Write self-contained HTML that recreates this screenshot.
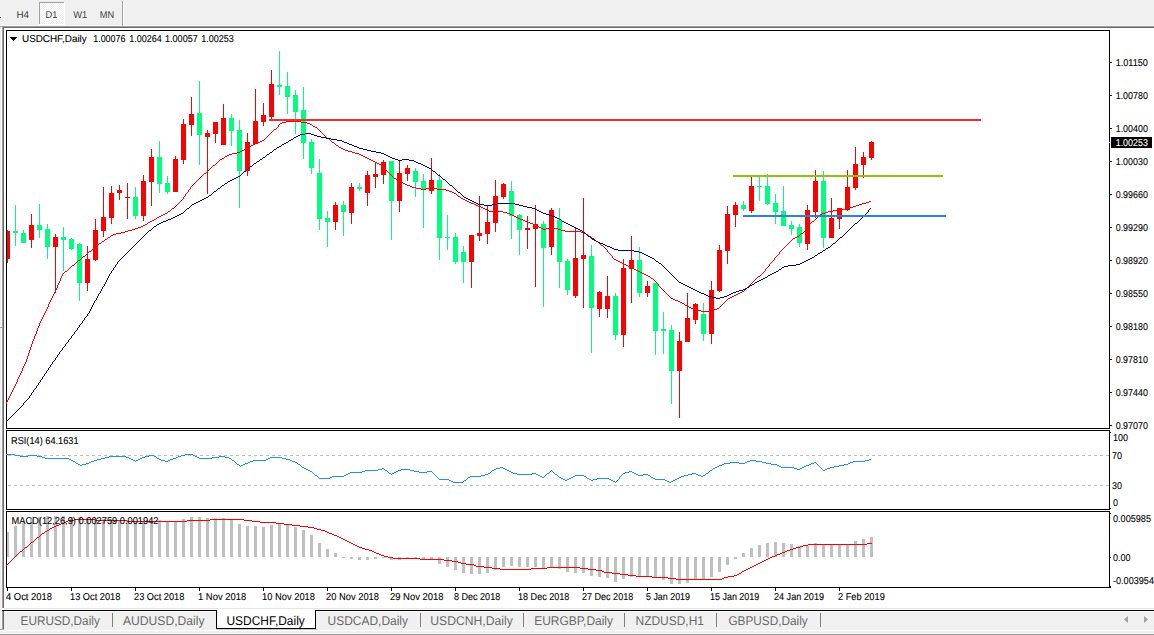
<!DOCTYPE html><html><head><meta charset="utf-8"><title>USDCHF Daily</title>
<style>html,body{margin:0;padding:0;background:#fff;overflow:hidden}svg{display:block}text{font-family:"Liberation Sans",sans-serif;text-rendering:geometricPrecision}</style></head><body>
<svg width="1154" height="635" viewBox="0 0 1154 635">
<rect width="1154" height="635" fill="#fff"/>
<g shape-rendering="crispEdges">
<rect x="0" y="0" width="1154" height="25" fill="#f0f0f0"/>
<rect x="0" y="25" width="1154" height="1" fill="#f8f8f8"/>
<rect x="0" y="26" width="1154" height="1" fill="#a0a0a0"/>
<rect x="3" y="27" width="1151" height="1" fill="#696969"/>
<defs><pattern id="dz" width="2" height="2" patternUnits="userSpaceOnUse"><rect width="2" height="2" fill="#f0f0f0"/><rect width="1" height="1" fill="#fff"/><rect x="1" y="1" width="1" height="1" fill="#fff"/></pattern></defs>
<rect x="40" y="3" width="24" height="21" fill="url(#dz)"/>
<rect x="39" y="2" width="25" height="1" fill="#a0a0a0"/><rect x="39" y="2" width="1" height="22" fill="#a0a0a0"/>
<rect x="64" y="2" width="1" height="23" fill="#fff"/><rect x="39" y="24" width="26" height="1" fill="#fff"/>
<rect x="122" y="1" width="1" height="25" fill="#a0a0a0"/><rect x="123" y="1" width="1" height="25" fill="#fff"/>
<rect x="0" y="17" width="1" height="1" fill="#444"/>
<rect x="0" y="27" width="1" height="603" fill="#f0f0f0"/>
<rect x="1" y="27" width="1" height="603" fill="#fafafa"/>
<rect x="2" y="27" width="1" height="581" fill="#a0a0a0"/>
<rect x="3" y="28" width="1" height="580" fill="#696969"/>
<rect x="2" y="611" width="1" height="19" fill="#a0a0a0"/>
<rect x="3" y="611" width="1" height="19" fill="#696969"/>
<rect x="0" y="327" width="3" height="1" fill="#a0a0a0"/>
<rect x="4" y="608" width="1150" height="1" fill="#e6e6e6"/>
<rect x="4" y="611" width="1150" height="19" fill="#f0f0f0"/>
<rect x="2" y="610" width="1152" height="1" fill="#000"/>
<rect x="4" y="611" width="1150" height="1" fill="#fafafa"/>
<rect x="0" y="629" width="4" height="1" fill="#a0a0a0"/>
<rect x="0" y="630" width="1154" height="1" fill="#fff"/>
<rect x="0" y="631" width="1154" height="2" fill="#f0f0f0"/>
<rect x="0" y="633" width="1154" height="1" fill="#f4f4f4"/>
<rect x="0" y="634" width="1154" height="1" fill="#a0a0a0"/>
<rect x="216" y="609" width="100" height="20" fill="#fff"/>
<rect x="216" y="610" width="1" height="19" fill="#000"/><rect x="315" y="610" width="1" height="19" fill="#000"/><rect x="216" y="628" width="100" height="1" fill="#000"/>
<rect x="217" y="629" width="100" height="1" fill="#c8c8c8"/>
<rect x="112" y="613" width="1" height="14" fill="#808080"/>
<rect x="420" y="613" width="1" height="14" fill="#808080"/>
<rect x="523" y="613" width="1" height="14" fill="#808080"/>
<rect x="624" y="613" width="1" height="14" fill="#808080"/>
<rect x="716" y="613" width="1" height="14" fill="#808080"/>
<rect x="820" y="613" width="1" height="14" fill="#808080"/>
<rect x="6" y="30" width="1104" height="1" fill="#000"/>
<rect x="6" y="30" width="1" height="558" fill="#000"/>
<rect x="1109" y="30" width="1" height="558" fill="#000"/>
<rect x="6" y="428" width="1104" height="1" fill="#000"/>
<rect x="6" y="430" width="1104" height="1" fill="#000"/>
<rect x="6" y="509" width="1104" height="1" fill="#000"/>
<rect x="6" y="511" width="1104" height="1" fill="#000"/>
<rect x="6" y="587" width="1105" height="1" fill="#000"/>
<rect x="6" y="429" width="1104" height="1" fill="#fff"/><rect x="6" y="510" width="1104" height="1" fill="#fff"/>
<rect x="1110" y="62" width="2" height="1" fill="#000"/>
<rect x="1110" y="95" width="2" height="1" fill="#000"/>
<rect x="1110" y="128" width="2" height="1" fill="#000"/>
<rect x="1110" y="161" width="2" height="1" fill="#000"/>
<rect x="1110" y="194" width="2" height="1" fill="#000"/>
<rect x="1110" y="227" width="2" height="1" fill="#000"/>
<rect x="1110" y="260" width="2" height="1" fill="#000"/>
<rect x="1110" y="293" width="2" height="1" fill="#000"/>
<rect x="1110" y="326" width="2" height="1" fill="#000"/>
<rect x="1110" y="359" width="2" height="1" fill="#000"/>
<rect x="1110" y="392" width="2" height="1" fill="#000"/>
<rect x="1110" y="425" width="2" height="1" fill="#000"/>
<rect x="1110" y="432" width="1" height="1" fill="#000"/>
<rect x="1110" y="508" width="1" height="1" fill="#000"/>
<rect x="1110" y="513" width="1" height="1" fill="#000"/>
<rect x="1110" y="557" width="1" height="1" fill="#000"/>
<rect x="1110" y="586" width="1" height="1" fill="#000"/>
<rect x="7" y="588" width="1" height="3" fill="#000"/>
<rect x="71" y="588" width="1" height="3" fill="#000"/>
<rect x="135" y="588" width="1" height="3" fill="#000"/>
<rect x="199" y="588" width="1" height="3" fill="#000"/>
<rect x="263" y="588" width="1" height="3" fill="#000"/>
<rect x="327" y="588" width="1" height="3" fill="#000"/>
<rect x="391" y="588" width="1" height="3" fill="#000"/>
<rect x="455" y="588" width="1" height="3" fill="#000"/>
<rect x="519" y="588" width="1" height="3" fill="#000"/>
<rect x="583" y="588" width="1" height="3" fill="#000"/>
<rect x="647" y="588" width="1" height="3" fill="#000"/>
<rect x="711" y="588" width="1" height="3" fill="#000"/>
<rect x="775" y="588" width="1" height="3" fill="#000"/>
<rect x="839" y="588" width="1" height="3" fill="#000"/>
<path d="M8 455.5H1109M8 485.5H1109" stroke="#c0c0c0" stroke-width="1" stroke-dasharray="3 3" fill="none"/>
<rect x="7" y="532.0" width="2" height="25.0" fill="#c0c0c0"/>
<rect x="14" y="526.0" width="3" height="31.0" fill="#c0c0c0"/>
<rect x="22" y="521.5" width="3" height="35.5" fill="#c0c0c0"/>
<rect x="30" y="519.0" width="3" height="38.0" fill="#c0c0c0"/>
<rect x="38" y="516.5" width="3" height="40.5" fill="#c0c0c0"/>
<rect x="46" y="516.0" width="3" height="41.0" fill="#c0c0c0"/>
<rect x="54" y="516.0" width="3" height="41.0" fill="#c0c0c0"/>
<rect x="62" y="516.0" width="3" height="41.0" fill="#c0c0c0"/>
<rect x="70" y="516.5" width="3" height="40.5" fill="#c0c0c0"/>
<rect x="78" y="517.0" width="3" height="40.0" fill="#c0c0c0"/>
<rect x="86" y="517.5" width="3" height="39.5" fill="#c0c0c0"/>
<rect x="94" y="518.0" width="3" height="39.0" fill="#c0c0c0"/>
<rect x="102" y="518.5" width="3" height="38.5" fill="#c0c0c0"/>
<rect x="110" y="519.0" width="3" height="38.0" fill="#c0c0c0"/>
<rect x="118" y="519.5" width="3" height="37.5" fill="#c0c0c0"/>
<rect x="126" y="520.0" width="3" height="37.0" fill="#c0c0c0"/>
<rect x="134" y="520.5" width="3" height="36.5" fill="#c0c0c0"/>
<rect x="142" y="521.0" width="3" height="36.0" fill="#c0c0c0"/>
<rect x="150" y="521.0" width="3" height="36.0" fill="#c0c0c0"/>
<rect x="158" y="520.0" width="3" height="37.0" fill="#c0c0c0"/>
<rect x="166" y="521.5" width="3" height="35.5" fill="#c0c0c0"/>
<rect x="174" y="521.5" width="3" height="35.5" fill="#c0c0c0"/>
<rect x="182" y="519.0" width="3" height="38.0" fill="#c0c0c0"/>
<rect x="190" y="517.0" width="3" height="40.0" fill="#c0c0c0"/>
<rect x="198" y="517.0" width="3" height="40.0" fill="#c0c0c0"/>
<rect x="206" y="518.0" width="3" height="39.0" fill="#c0c0c0"/>
<rect x="214" y="518.0" width="3" height="39.0" fill="#c0c0c0"/>
<rect x="222" y="518.0" width="3" height="39.0" fill="#c0c0c0"/>
<rect x="230" y="520.0" width="3" height="37.0" fill="#c0c0c0"/>
<rect x="238" y="524.0" width="3" height="33.0" fill="#c0c0c0"/>
<rect x="246" y="526.0" width="3" height="31.0" fill="#c0c0c0"/>
<rect x="254" y="526.0" width="3" height="31.0" fill="#c0c0c0"/>
<rect x="262" y="527.0" width="3" height="30.0" fill="#c0c0c0"/>
<rect x="270" y="525.0" width="3" height="32.0" fill="#c0c0c0"/>
<rect x="278" y="524.0" width="3" height="33.0" fill="#c0c0c0"/>
<rect x="286" y="525.0" width="3" height="32.0" fill="#c0c0c0"/>
<rect x="294" y="527.0" width="3" height="30.0" fill="#c0c0c0"/>
<rect x="302" y="530.0" width="3" height="27.0" fill="#c0c0c0"/>
<rect x="310" y="535.0" width="3" height="22.0" fill="#c0c0c0"/>
<rect x="318" y="543.0" width="3" height="14.0" fill="#c0c0c0"/>
<rect x="326" y="549.0" width="3" height="8.0" fill="#c0c0c0"/>
<rect x="334" y="553.0" width="3" height="4.0" fill="#c0c0c0"/>
<rect x="342" y="557" width="3" height="1.0" fill="#c0c0c0"/>
<rect x="350" y="557" width="3" height="2.0" fill="#c0c0c0"/>
<rect x="358" y="557" width="3" height="3.0" fill="#c0c0c0"/>
<rect x="366" y="557" width="3" height="3.0" fill="#c0c0c0"/>
<rect x="374" y="557" width="3" height="2.0" fill="#c0c0c0"/>
<rect x="382" y="557" width="3" height="1.0" fill="#c0c0c0"/>
<rect x="390" y="557" width="3" height="3.0" fill="#c0c0c0"/>
<rect x="398" y="557" width="3" height="3.0" fill="#c0c0c0"/>
<rect x="406" y="557" width="3" height="2.0" fill="#c0c0c0"/>
<rect x="414" y="557" width="3" height="2.0" fill="#c0c0c0"/>
<rect x="422" y="557" width="3" height="2.0" fill="#c0c0c0"/>
<rect x="430" y="557" width="3" height="2.0" fill="#c0c0c0"/>
<rect x="438" y="557" width="3" height="7.0" fill="#c0c0c0"/>
<rect x="446" y="557" width="3" height="10.0" fill="#c0c0c0"/>
<rect x="454" y="557" width="3" height="13.0" fill="#c0c0c0"/>
<rect x="462" y="557" width="3" height="16.0" fill="#c0c0c0"/>
<rect x="470" y="557" width="3" height="17.0" fill="#c0c0c0"/>
<rect x="478" y="557" width="3" height="17.0" fill="#c0c0c0"/>
<rect x="486" y="557" width="3" height="16.0" fill="#c0c0c0"/>
<rect x="494" y="557" width="3" height="13.0" fill="#c0c0c0"/>
<rect x="502" y="557" width="3" height="10.0" fill="#c0c0c0"/>
<rect x="510" y="557" width="3" height="9.0" fill="#c0c0c0"/>
<rect x="518" y="557" width="3" height="10.0" fill="#c0c0c0"/>
<rect x="526" y="557" width="3" height="10.0" fill="#c0c0c0"/>
<rect x="534" y="557" width="3" height="10.0" fill="#c0c0c0"/>
<rect x="542" y="557" width="3" height="11.0" fill="#c0c0c0"/>
<rect x="550" y="557" width="3" height="10.0" fill="#c0c0c0"/>
<rect x="558" y="557" width="3" height="12.0" fill="#c0c0c0"/>
<rect x="566" y="557" width="3" height="15.0" fill="#c0c0c0"/>
<rect x="574" y="557" width="3" height="16.0" fill="#c0c0c0"/>
<rect x="582" y="557" width="3" height="16.0" fill="#c0c0c0"/>
<rect x="590" y="557" width="3" height="19.0" fill="#c0c0c0"/>
<rect x="598" y="557" width="3" height="20.0" fill="#c0c0c0"/>
<rect x="606" y="557" width="3" height="21.0" fill="#c0c0c0"/>
<rect x="614" y="557" width="3" height="25.0" fill="#c0c0c0"/>
<rect x="622" y="557" width="3" height="22.0" fill="#c0c0c0"/>
<rect x="630" y="557" width="3" height="20.0" fill="#c0c0c0"/>
<rect x="638" y="557" width="3" height="20.0" fill="#c0c0c0"/>
<rect x="646" y="557" width="3" height="20.0" fill="#c0c0c0"/>
<rect x="654" y="557" width="3" height="21.0" fill="#c0c0c0"/>
<rect x="662" y="557" width="3" height="23.0" fill="#c0c0c0"/>
<rect x="670" y="557" width="3" height="27.0" fill="#c0c0c0"/>
<rect x="678" y="557" width="3" height="27.0" fill="#c0c0c0"/>
<rect x="686" y="557" width="3" height="26.0" fill="#c0c0c0"/>
<rect x="694" y="557" width="3" height="22.0" fill="#c0c0c0"/>
<rect x="702" y="557" width="3" height="22.0" fill="#c0c0c0"/>
<rect x="710" y="557" width="3" height="20.0" fill="#c0c0c0"/>
<rect x="718" y="557" width="3" height="15.0" fill="#c0c0c0"/>
<rect x="726" y="557" width="3" height="8.0" fill="#c0c0c0"/>
<rect x="734" y="557" width="3" height="2.0" fill="#c0c0c0"/>
<rect x="742" y="553.0" width="3" height="4.0" fill="#c0c0c0"/>
<rect x="750" y="548.0" width="3" height="9.0" fill="#c0c0c0"/>
<rect x="758" y="545.0" width="3" height="12.0" fill="#c0c0c0"/>
<rect x="766" y="543.0" width="3" height="14.0" fill="#c0c0c0"/>
<rect x="774" y="542.0" width="3" height="15.0" fill="#c0c0c0"/>
<rect x="782" y="543.0" width="3" height="14.0" fill="#c0c0c0"/>
<rect x="790" y="544.0" width="3" height="13.0" fill="#c0c0c0"/>
<rect x="798" y="546.0" width="3" height="11.0" fill="#c0c0c0"/>
<rect x="806" y="546.0" width="3" height="11.0" fill="#c0c0c0"/>
<rect x="814" y="543.0" width="3" height="14.0" fill="#c0c0c0"/>
<rect x="822" y="545.0" width="3" height="12.0" fill="#c0c0c0"/>
<rect x="830" y="545.0" width="3" height="12.0" fill="#c0c0c0"/>
<rect x="838" y="545.0" width="3" height="12.0" fill="#c0c0c0"/>
<rect x="846" y="545.0" width="3" height="12.0" fill="#c0c0c0"/>
<rect x="854" y="541.0" width="3" height="16.0" fill="#c0c0c0"/>
<rect x="862" y="539.0" width="3" height="18.0" fill="#c0c0c0"/>
<rect x="870" y="537.0" width="3" height="20.0" fill="#c0c0c0"/>
<rect x="7" y="230" width="1" height="33" fill="#ff0000"/>
<rect x="7" y="231" width="3" height="28" fill="#ff0000"/>
<rect x="15" y="205" width="1" height="41" fill="#00ff7f"/>
<rect x="13" y="231" width="5" height="2" fill="#00ff7f"/>
<rect x="23" y="230" width="1" height="13" fill="#00ff7f"/>
<rect x="21" y="233" width="5" height="10" fill="#00ff7f"/>
<rect x="31" y="214" width="1" height="34" fill="#ff0000"/>
<rect x="29" y="225" width="5" height="15" fill="#ff0000"/>
<rect x="39" y="204" width="1" height="34" fill="#00ff7f"/>
<rect x="37" y="225" width="5" height="5" fill="#00ff7f"/>
<rect x="47" y="224" width="1" height="35" fill="#00ff7f"/>
<rect x="45" y="229" width="5" height="18" fill="#00ff7f"/>
<rect x="55" y="234" width="1" height="59" fill="#ff0000"/>
<rect x="53" y="237" width="5" height="10" fill="#ff0000"/>
<rect x="63" y="227" width="1" height="44" fill="#00ff7f"/>
<rect x="61" y="237" width="5" height="3" fill="#00ff7f"/>
<rect x="71" y="238" width="1" height="12" fill="#00ff7f"/>
<rect x="69" y="239" width="5" height="10" fill="#00ff7f"/>
<rect x="79" y="243" width="1" height="58" fill="#00ff7f"/>
<rect x="77" y="244" width="5" height="39" fill="#00ff7f"/>
<rect x="87" y="246" width="1" height="45" fill="#ff0000"/>
<rect x="85" y="259" width="5" height="24" fill="#ff0000"/>
<rect x="95" y="219" width="1" height="42" fill="#ff0000"/>
<rect x="93" y="230" width="5" height="30" fill="#ff0000"/>
<rect x="103" y="187" width="1" height="50" fill="#ff0000"/>
<rect x="101" y="217" width="5" height="14" fill="#ff0000"/>
<rect x="111" y="186" width="1" height="38" fill="#ff0000"/>
<rect x="109" y="193" width="5" height="25" fill="#ff0000"/>
<rect x="119" y="185" width="1" height="15" fill="#ff0000"/>
<rect x="117" y="190" width="5" height="3" fill="#ff0000"/>
<rect x="127" y="183" width="1" height="36" fill="#ff0000"/>
<rect x="125" y="197" width="5" height="1" fill="#ff0000"/>
<rect x="135" y="187" width="1" height="32" fill="#00ff7f"/>
<rect x="133" y="197" width="5" height="19" fill="#00ff7f"/>
<rect x="143" y="175" width="1" height="46" fill="#ff0000"/>
<rect x="141" y="181" width="5" height="35" fill="#ff0000"/>
<rect x="151" y="149" width="1" height="57" fill="#ff0000"/>
<rect x="149" y="157" width="5" height="25" fill="#ff0000"/>
<rect x="159" y="141" width="1" height="52" fill="#00ff7f"/>
<rect x="157" y="157" width="5" height="27" fill="#00ff7f"/>
<rect x="167" y="176" width="1" height="18" fill="#00ff7f"/>
<rect x="165" y="183" width="5" height="9" fill="#00ff7f"/>
<rect x="175" y="156" width="1" height="36" fill="#ff0000"/>
<rect x="173" y="159" width="5" height="33" fill="#ff0000"/>
<rect x="183" y="119" width="1" height="45" fill="#ff0000"/>
<rect x="181" y="124" width="5" height="36" fill="#ff0000"/>
<rect x="191" y="97" width="1" height="39" fill="#ff0000"/>
<rect x="189" y="114" width="5" height="11" fill="#ff0000"/>
<rect x="199" y="81" width="1" height="84" fill="#00ff7f"/>
<rect x="197" y="113" width="5" height="22" fill="#00ff7f"/>
<rect x="207" y="130" width="1" height="64" fill="#ff0000"/>
<rect x="205" y="133" width="5" height="4" fill="#ff0000"/>
<rect x="215" y="122" width="1" height="21" fill="#ff0000"/>
<rect x="213" y="122" width="5" height="12" fill="#ff0000"/>
<rect x="223" y="104" width="1" height="41" fill="#ff0000"/>
<rect x="221" y="118" width="5" height="27" fill="#ff0000"/>
<rect x="231" y="114" width="1" height="32" fill="#00ff7f"/>
<rect x="229" y="118" width="5" height="13" fill="#00ff7f"/>
<rect x="239" y="120" width="1" height="88" fill="#00ff7f"/>
<rect x="237" y="130" width="5" height="41" fill="#00ff7f"/>
<rect x="247" y="133" width="1" height="43" fill="#ff0000"/>
<rect x="245" y="142" width="5" height="29" fill="#ff0000"/>
<rect x="255" y="89" width="1" height="55" fill="#ff0000"/>
<rect x="253" y="121" width="5" height="23" fill="#ff0000"/>
<rect x="263" y="103" width="1" height="23" fill="#ff0000"/>
<rect x="261" y="115" width="5" height="7" fill="#ff0000"/>
<rect x="271" y="70" width="1" height="49" fill="#ff0000"/>
<rect x="269" y="84" width="5" height="33" fill="#ff0000"/>
<rect x="279" y="51" width="1" height="44" fill="#00ff7f"/>
<rect x="277" y="85" width="5" height="2" fill="#00ff7f"/>
<rect x="287" y="72" width="1" height="42" fill="#00ff7f"/>
<rect x="285" y="86" width="5" height="11" fill="#00ff7f"/>
<rect x="295" y="90" width="1" height="44" fill="#00ff7f"/>
<rect x="293" y="95" width="5" height="17" fill="#00ff7f"/>
<rect x="303" y="87" width="1" height="72" fill="#00ff7f"/>
<rect x="301" y="110" width="5" height="33" fill="#00ff7f"/>
<rect x="311" y="139" width="1" height="35" fill="#00ff7f"/>
<rect x="309" y="142" width="5" height="26" fill="#00ff7f"/>
<rect x="319" y="159" width="1" height="71" fill="#00ff7f"/>
<rect x="317" y="173" width="5" height="46" fill="#00ff7f"/>
<rect x="327" y="211" width="1" height="36" fill="#00ff7f"/>
<rect x="325" y="218" width="5" height="4" fill="#00ff7f"/>
<rect x="335" y="202" width="1" height="28" fill="#ff0000"/>
<rect x="333" y="205" width="5" height="17" fill="#ff0000"/>
<rect x="343" y="201" width="1" height="35" fill="#00ff7f"/>
<rect x="341" y="205" width="5" height="7" fill="#00ff7f"/>
<rect x="351" y="183" width="1" height="41" fill="#ff0000"/>
<rect x="349" y="187" width="5" height="26" fill="#ff0000"/>
<rect x="359" y="183" width="1" height="8" fill="#00ff7f"/>
<rect x="357" y="187" width="5" height="2" fill="#00ff7f"/>
<rect x="367" y="171" width="1" height="35" fill="#ff0000"/>
<rect x="365" y="175" width="5" height="18" fill="#ff0000"/>
<rect x="375" y="162" width="1" height="26" fill="#ff0000"/>
<rect x="373" y="174" width="5" height="3" fill="#ff0000"/>
<rect x="383" y="160" width="1" height="24" fill="#ff0000"/>
<rect x="381" y="162" width="5" height="13" fill="#ff0000"/>
<rect x="391" y="161" width="1" height="79" fill="#00ff7f"/>
<rect x="389" y="161" width="5" height="40" fill="#00ff7f"/>
<rect x="399" y="160" width="1" height="52" fill="#ff0000"/>
<rect x="397" y="173" width="5" height="28" fill="#ff0000"/>
<rect x="407" y="165" width="1" height="16" fill="#ff0000"/>
<rect x="405" y="168" width="5" height="6" fill="#ff0000"/>
<rect x="415" y="168" width="1" height="29" fill="#00ff7f"/>
<rect x="413" y="171" width="5" height="11" fill="#00ff7f"/>
<rect x="423" y="174" width="1" height="54" fill="#00ff7f"/>
<rect x="421" y="181" width="5" height="9" fill="#00ff7f"/>
<rect x="431" y="158" width="1" height="36" fill="#ff0000"/>
<rect x="429" y="180" width="5" height="11" fill="#ff0000"/>
<rect x="439" y="174" width="1" height="86" fill="#00ff7f"/>
<rect x="437" y="180" width="5" height="58" fill="#00ff7f"/>
<rect x="447" y="215" width="1" height="35" fill="#00ff7f"/>
<rect x="445" y="237" width="5" height="1" fill="#00ff7f"/>
<rect x="455" y="233" width="1" height="31" fill="#00ff7f"/>
<rect x="453" y="237" width="5" height="25" fill="#00ff7f"/>
<rect x="463" y="246" width="1" height="37" fill="#00ff7f"/>
<rect x="461" y="252" width="5" height="10" fill="#00ff7f"/>
<rect x="471" y="235" width="1" height="53" fill="#ff0000"/>
<rect x="469" y="235" width="5" height="27" fill="#ff0000"/>
<rect x="479" y="196" width="1" height="45" fill="#ff0000"/>
<rect x="477" y="233" width="5" height="3" fill="#ff0000"/>
<rect x="487" y="206" width="1" height="38" fill="#ff0000"/>
<rect x="485" y="222" width="5" height="12" fill="#ff0000"/>
<rect x="495" y="180" width="1" height="52" fill="#ff0000"/>
<rect x="493" y="196" width="5" height="27" fill="#ff0000"/>
<rect x="503" y="183" width="1" height="16" fill="#ff0000"/>
<rect x="501" y="184" width="5" height="13" fill="#ff0000"/>
<rect x="511" y="181" width="1" height="58" fill="#00ff7f"/>
<rect x="509" y="191" width="5" height="25" fill="#00ff7f"/>
<rect x="519" y="214" width="1" height="41" fill="#00ff7f"/>
<rect x="517" y="215" width="5" height="15" fill="#00ff7f"/>
<rect x="527" y="216" width="1" height="33" fill="#ff0000"/>
<rect x="525" y="228" width="5" height="2" fill="#ff0000"/>
<rect x="535" y="205" width="1" height="82" fill="#ff0000"/>
<rect x="533" y="224" width="5" height="5" fill="#ff0000"/>
<rect x="543" y="221" width="1" height="86" fill="#00ff7f"/>
<rect x="541" y="224" width="5" height="24" fill="#00ff7f"/>
<rect x="551" y="208" width="1" height="47" fill="#ff0000"/>
<rect x="549" y="210" width="5" height="37" fill="#ff0000"/>
<rect x="559" y="208" width="1" height="80" fill="#00ff7f"/>
<rect x="557" y="220" width="5" height="42" fill="#00ff7f"/>
<rect x="567" y="259" width="1" height="36" fill="#00ff7f"/>
<rect x="565" y="261" width="5" height="29" fill="#00ff7f"/>
<rect x="575" y="228" width="1" height="70" fill="#ff0000"/>
<rect x="573" y="258" width="5" height="38" fill="#ff0000"/>
<rect x="583" y="198" width="1" height="110" fill="#ff0000"/>
<rect x="581" y="255" width="5" height="4" fill="#ff0000"/>
<rect x="591" y="245" width="1" height="108" fill="#00ff7f"/>
<rect x="589" y="256" width="5" height="52" fill="#00ff7f"/>
<rect x="599" y="291" width="1" height="26" fill="#ff0000"/>
<rect x="597" y="292" width="5" height="17" fill="#ff0000"/>
<rect x="607" y="276" width="1" height="42" fill="#ff0000"/>
<rect x="605" y="296" width="5" height="13" fill="#ff0000"/>
<rect x="615" y="293" width="1" height="47" fill="#00ff7f"/>
<rect x="613" y="296" width="5" height="39" fill="#00ff7f"/>
<rect x="623" y="259" width="1" height="88" fill="#ff0000"/>
<rect x="621" y="268" width="5" height="67" fill="#ff0000"/>
<rect x="631" y="236" width="1" height="67" fill="#ff0000"/>
<rect x="629" y="260" width="5" height="9" fill="#ff0000"/>
<rect x="639" y="247" width="1" height="50" fill="#00ff7f"/>
<rect x="637" y="260" width="5" height="33" fill="#00ff7f"/>
<rect x="647" y="281" width="1" height="16" fill="#ff0000"/>
<rect x="645" y="286" width="5" height="7" fill="#ff0000"/>
<rect x="655" y="283" width="1" height="72" fill="#00ff7f"/>
<rect x="653" y="283" width="5" height="48" fill="#00ff7f"/>
<rect x="663" y="312" width="1" height="42" fill="#00ff7f"/>
<rect x="661" y="329" width="5" height="2" fill="#00ff7f"/>
<rect x="671" y="325" width="1" height="79" fill="#00ff7f"/>
<rect x="669" y="330" width="5" height="41" fill="#00ff7f"/>
<rect x="679" y="332" width="1" height="86" fill="#ff0000"/>
<rect x="677" y="341" width="5" height="30" fill="#ff0000"/>
<rect x="687" y="293" width="1" height="49" fill="#ff0000"/>
<rect x="685" y="318" width="5" height="24" fill="#ff0000"/>
<rect x="695" y="303" width="1" height="21" fill="#ff0000"/>
<rect x="693" y="304" width="5" height="16" fill="#ff0000"/>
<rect x="703" y="303" width="1" height="38" fill="#00ff7f"/>
<rect x="701" y="314" width="5" height="20" fill="#00ff7f"/>
<rect x="711" y="281" width="1" height="63" fill="#ff0000"/>
<rect x="709" y="290" width="5" height="44" fill="#ff0000"/>
<rect x="719" y="245" width="1" height="47" fill="#ff0000"/>
<rect x="717" y="250" width="5" height="41" fill="#ff0000"/>
<rect x="727" y="206" width="1" height="58" fill="#ff0000"/>
<rect x="725" y="214" width="5" height="37" fill="#ff0000"/>
<rect x="735" y="202" width="1" height="25" fill="#ff0000"/>
<rect x="733" y="205" width="5" height="10" fill="#ff0000"/>
<rect x="743" y="201" width="1" height="10" fill="#00ff7f"/>
<rect x="741" y="205" width="5" height="4" fill="#00ff7f"/>
<rect x="751" y="176" width="1" height="37" fill="#ff0000"/>
<rect x="749" y="186" width="5" height="25" fill="#ff0000"/>
<rect x="759" y="176" width="1" height="25" fill="#00ff7f"/>
<rect x="757" y="186" width="5" height="1" fill="#00ff7f"/>
<rect x="767" y="174" width="1" height="31" fill="#00ff7f"/>
<rect x="765" y="186" width="5" height="18" fill="#00ff7f"/>
<rect x="775" y="194" width="1" height="30" fill="#00ff7f"/>
<rect x="773" y="203" width="5" height="9" fill="#00ff7f"/>
<rect x="783" y="186" width="1" height="40" fill="#00ff7f"/>
<rect x="781" y="211" width="5" height="15" fill="#00ff7f"/>
<rect x="791" y="221" width="1" height="14" fill="#00ff7f"/>
<rect x="789" y="225" width="5" height="4" fill="#00ff7f"/>
<rect x="799" y="224" width="1" height="23" fill="#00ff7f"/>
<rect x="797" y="227" width="5" height="16" fill="#00ff7f"/>
<rect x="807" y="205" width="1" height="45" fill="#ff0000"/>
<rect x="805" y="210" width="5" height="34" fill="#ff0000"/>
<rect x="815" y="170" width="1" height="48" fill="#ff0000"/>
<rect x="813" y="181" width="5" height="31" fill="#ff0000"/>
<rect x="823" y="171" width="1" height="77" fill="#00ff7f"/>
<rect x="821" y="181" width="5" height="57" fill="#00ff7f"/>
<rect x="831" y="198" width="1" height="40" fill="#ff0000"/>
<rect x="829" y="218" width="5" height="20" fill="#ff0000"/>
<rect x="839" y="208" width="1" height="21" fill="#ff0000"/>
<rect x="837" y="208" width="5" height="11" fill="#ff0000"/>
<rect x="847" y="170" width="1" height="41" fill="#ff0000"/>
<rect x="845" y="187" width="5" height="23" fill="#ff0000"/>
<rect x="855" y="147" width="1" height="43" fill="#ff0000"/>
<rect x="853" y="164" width="5" height="24" fill="#ff0000"/>
<rect x="863" y="152" width="1" height="26" fill="#ff0000"/>
<rect x="861" y="157" width="5" height="8" fill="#ff0000"/>
<rect x="871" y="141" width="1" height="19" fill="#ff0000"/>
<rect x="869" y="142" width="5" height="16" fill="#ff0000"/>
<rect x="1111" y="137" width="41" height="11" fill="#000"/>
<rect x="1109" y="142" width="1" height="1" fill="#fff"/>
<path d="M10 37h7l-3.5 4z" fill="#000"/>
</g>
<g shape-rendering="crispEdges">
<path fill="#ff0000" d="M286 121h15v1h-15zM282 122h4v1h-4zM301 122h6v1h-6zM280 123h2v1h-2zM307 123h3v1h-3zM310 124h2v1h-2zM313 126h2v1h-2zM315 127h2v1h-2zM274 129h2v1h-2zM327 138h2v1h-2zM262 140h2v1h-2zM260 141h2v1h-2zM258 142h2v1h-2zM332 142h2v1h-2zM255 143h3v1h-3zM253 144h2v1h-2zM251 145h2v1h-2zM336 145h2v1h-2zM249 146h2v1h-2zM247 147h2v1h-2zM339 147h2v1h-2zM245 148h2v1h-2zM341 148h2v1h-2zM343 149h2v1h-2zM242 150h2v1h-2zM345 150h3v1h-3zM240 151h2v1h-2zM348 151h4v1h-4zM237 152h3v1h-3zM352 152h3v1h-3zM232 153h5v1h-5zM355 153h4v1h-4zM229 154h3v1h-3zM359 154h2v1h-2zM227 155h2v1h-2zM361 155h2v1h-2zM225 156h2v1h-2zM363 156h2v1h-2zM365 157h2v1h-2zM222 158h2v1h-2zM367 158h2v1h-2zM220 159h2v1h-2zM369 159h2v1h-2zM371 160h2v1h-2zM373 161h2v1h-2zM375 162h2v1h-2zM377 163h2v1h-2zM379 164h2v1h-2zM213 165h2v1h-2zM204 173h2v1h-2zM394 178h2v1h-2zM396 179h2v1h-2zM399 181h2v1h-2zM401 182h2v1h-2zM403 183h2v1h-2zM405 184h2v1h-2zM407 185h3v1h-3zM410 186h2v1h-2zM412 187h4v1h-4zM416 188h5v1h-5zM426 188h11v1h-11zM421 189h5v1h-5zM437 189h9v1h-9zM446 190h3v1h-3zM449 191h3v1h-3zM452 192h2v1h-2zM454 193h2v1h-2zM458 196h2v1h-2zM461 198h2v1h-2zM463 199h2v1h-2zM465 200h2v1h-2zM467 201h2v1h-2zM869 201h2v1h-2zM469 202h2v1h-2zM866 202h3v1h-3zM471 203h3v1h-3zM862 203h4v1h-4zM474 204h2v1h-2zM859 204h3v1h-3zM476 205h2v1h-2zM856 205h3v1h-3zM478 206h3v1h-3zM853 206h3v1h-3zM481 207h2v1h-2zM849 207h4v1h-4zM172 208h2v1h-2zM483 208h2v1h-2zM846 208h3v1h-3zM485 209h2v1h-2zM841 209h5v1h-5zM487 210h2v1h-2zM833 210h8v1h-8zM168 211h2v1h-2zM489 211h14v1h-14zM828 211h5v1h-5zM503 212h4v1h-4zM825 212h3v1h-3zM165 213h2v1h-2zM507 213h3v1h-3zM822 213h3v1h-3zM163 214h2v1h-2zM510 214h2v1h-2zM820 214h2v1h-2zM161 215h2v1h-2zM512 215h2v1h-2zM159 216h2v1h-2zM514 216h2v1h-2zM157 217h2v1h-2zM516 217h2v1h-2zM518 218h2v1h-2zM154 219h2v1h-2zM520 219h3v1h-3zM152 220h2v1h-2zM523 220h2v1h-2zM150 221h2v1h-2zM525 221h3v1h-3zM812 221h2v1h-2zM148 222h2v1h-2zM528 222h2v1h-2zM530 223h3v1h-3zM145 224h2v1h-2zM533 224h2v1h-2zM143 225h2v1h-2zM535 225h2v1h-2zM141 226h2v1h-2zM537 226h2v1h-2zM138 227h3v1h-3zM539 227h2v1h-2zM135 228h3v1h-3zM541 228h2v1h-2zM546 228h12v1h-12zM132 229h3v1h-3zM543 229h3v1h-3zM558 229h3v1h-3zM128 230h4v1h-4zM561 230h4v1h-4zM125 231h3v1h-3zM565 231h16v1h-16zM121 232h4v1h-4zM581 232h3v1h-3zM116 233h5v1h-5zM584 233h2v1h-2zM801 233h2v1h-2zM113 234h3v1h-3zM586 234h2v1h-2zM111 235h2v1h-2zM589 236h2v1h-2zM797 236h2v1h-2zM108 237h2v1h-2zM795 237h2v1h-2zM592 238h2v1h-2zM793 238h2v1h-2zM105 239h2v1h-2zM102 241h2v1h-2zM596 241h2v1h-2zM99 243h2v1h-2zM601 245h2v1h-2zM95 246h2v1h-2zM89 251h2v1h-2zM83 256h2v1h-2zM614 259h2v1h-2zM78 260h2v1h-2zM616 260h2v1h-2zM618 261h2v1h-2zM620 262h2v1h-2zM622 263h2v1h-2zM624 264h2v1h-2zM72 265h2v1h-2zM626 265h2v1h-2zM628 266h2v1h-2zM630 267h2v1h-2zM632 268h2v1h-2zM634 269h2v1h-2zM636 270h2v1h-2zM65 271h2v1h-2zM638 271h2v1h-2zM640 272h2v1h-2zM642 273h2v1h-2zM644 274h2v1h-2zM646 275h2v1h-2zM648 276h2v1h-2zM758 276h2v1h-2zM651 278h2v1h-2zM742 291h2v1h-2zM740 292h2v1h-2zM738 293h2v1h-2zM736 294h2v1h-2zM734 295h2v1h-2zM732 296h2v1h-2zM730 297h2v1h-2zM671 298h2v1h-2zM728 298h2v1h-2zM673 299h2v1h-2zM675 300h3v1h-3zM678 301h2v1h-2zM680 302h2v1h-2zM682 303h2v1h-2zM685 305h2v1h-2zM687 306h2v1h-2zM689 307h2v1h-2zM691 308h3v1h-3zM717 308h2v1h-2zM694 309h4v1h-4zM714 309h3v1h-3zM698 310h3v1h-3zM711 310h3v1h-3zM701 311h10v1h-10zM6 402h1v2h-1zM7 400h1v2h-1zM8 398h1v2h-1zM9 396h1v2h-1zM10 394h1v2h-1zM11 392h1v2h-1zM12 390h1v2h-1zM13 388h1v2h-1zM14 386h1v2h-1zM15 384h1v2h-1zM16 382h1v2h-1zM17 379h1v3h-1zM18 377h1v2h-1zM19 375h1v2h-1zM20 373h1v2h-1zM21 371h1v2h-1zM22 368h1v3h-1zM23 366h1v2h-1zM24 364h1v2h-1zM25 362h1v2h-1zM26 359h1v3h-1zM27 356h1v3h-1zM28 353h1v3h-1zM29 350h1v3h-1zM30 347h1v3h-1zM31 344h1v3h-1zM32 341h1v3h-1zM33 339h1v2h-1zM34 336h1v3h-1zM35 334h1v2h-1zM36 331h1v3h-1zM37 328h1v3h-1zM38 326h1v2h-1zM39 323h1v3h-1zM40 321h1v2h-1zM41 319h1v2h-1zM42 317h1v2h-1zM43 315h1v2h-1zM44 313h1v2h-1zM45 311h1v2h-1zM46 309h1v2h-1zM47 307h1v2h-1zM48 304h1v3h-1zM49 302h1v2h-1zM50 300h1v2h-1zM51 298h1v2h-1zM52 296h1v2h-1zM53 294h1v2h-1zM54 292h1v2h-1zM55 290h1v2h-1zM56 288h1v2h-1zM57 285h1v3h-1zM58 283h1v2h-1zM59 281h1v2h-1zM60 278h1v3h-1zM61 276h1v2h-1zM62 274h1v2h-1zM63 273h1v1h-1zM64 272h1v1h-1zM67 270h1v1h-1zM68 269h1v1h-1zM69 268h1v1h-1zM70 267h1v1h-1zM71 266h1v1h-1zM74 264h1v1h-1zM75 263h1v1h-1zM76 262h1v1h-1zM77 261h1v1h-1zM80 259h1v1h-1zM81 258h1v1h-1zM82 257h1v1h-1zM85 255h1v1h-1zM86 254h1v1h-1zM87 253h1v1h-1zM88 252h1v1h-1zM91 250h1v1h-1zM92 249h1v1h-1zM93 248h1v1h-1zM94 247h1v1h-1zM97 245h1v1h-1zM98 244h1v1h-1zM101 242h1v1h-1zM104 240h1v1h-1zM107 238h1v1h-1zM110 236h1v1h-1zM147 223h1v1h-1zM156 218h1v1h-1zM167 212h1v1h-1zM170 210h1v1h-1zM171 209h1v1h-1zM174 207h1v1h-1zM175 206h1v1h-1zM176 205h1v1h-1zM177 204h1v1h-1zM178 203h1v1h-1zM179 202h1v1h-1zM180 201h1v1h-1zM181 200h1v1h-1zM182 199h1v1h-1zM183 197h1v2h-1zM184 196h1v1h-1zM185 194h1v2h-1zM186 193h1v1h-1zM187 192h1v1h-1zM188 190h1v2h-1zM189 189h1v1h-1zM190 187h1v2h-1zM191 186h1v1h-1zM192 185h1v1h-1zM193 184h1v1h-1zM194 183h1v1h-1zM195 182h1v1h-1zM196 181h1v1h-1zM197 180h1v1h-1zM198 179h1v1h-1zM199 178h1v1h-1zM200 177h1v1h-1zM201 176h1v1h-1zM202 175h1v1h-1zM203 174h1v1h-1zM206 172h1v1h-1zM207 171h1v1h-1zM208 170h1v1h-1zM209 169h1v1h-1zM210 168h1v1h-1zM211 167h1v1h-1zM212 166h1v1h-1zM215 164h1v1h-1zM216 163h1v1h-1zM217 162h1v1h-1zM218 161h1v1h-1zM219 160h1v1h-1zM224 157h1v1h-1zM244 149h1v1h-1zM264 139h1v1h-1zM265 138h1v1h-1zM266 137h1v1h-1zM267 136h1v1h-1zM268 135h1v1h-1zM269 134h1v1h-1zM270 133h1v1h-1zM271 132h1v1h-1zM272 131h1v1h-1zM273 130h1v1h-1zM276 128h1v1h-1zM277 127h1v1h-1zM278 125h1v2h-1zM279 124h1v1h-1zM312 125h1v1h-1zM317 128h1v1h-1zM318 129h1v1h-1zM319 130h1v1h-1zM320 131h1v1h-1zM321 132h1v1h-1zM322 133h1v1h-1zM323 134h1v1h-1zM324 135h1v1h-1zM325 136h1v1h-1zM326 137h1v1h-1zM329 139h1v1h-1zM330 140h1v1h-1zM331 141h1v1h-1zM334 143h1v1h-1zM335 144h1v1h-1zM338 146h1v1h-1zM381 165h1v1h-1zM382 166h1v1h-1zM383 167h1v1h-1zM384 168h1v1h-1zM385 169h1v1h-1zM386 170h1v1h-1zM387 171h1v1h-1zM388 172h1v1h-1zM389 173h1v1h-1zM390 174h1v1h-1zM391 175h1v1h-1zM392 176h1v1h-1zM393 177h1v1h-1zM398 180h1v1h-1zM456 194h1v1h-1zM457 195h1v1h-1zM460 197h1v1h-1zM588 235h1v1h-1zM591 237h1v1h-1zM594 239h1v1h-1zM595 240h1v1h-1zM598 242h1v1h-1zM599 243h1v1h-1zM600 244h1v1h-1zM603 246h1v1h-1zM604 247h1v1h-1zM605 248h1v1h-1zM606 249h1v1h-1zM607 250h1v2h-1zM608 252h1v1h-1zM609 253h1v1h-1zM610 254h1v1h-1zM611 255h1v1h-1zM612 256h1v2h-1zM613 258h1v1h-1zM650 277h1v1h-1zM653 279h1v1h-1zM654 280h1v1h-1zM655 281h1v1h-1zM656 282h1v1h-1zM657 283h1v1h-1zM658 284h1v2h-1zM659 286h1v1h-1zM660 287h1v1h-1zM661 288h1v1h-1zM662 289h1v1h-1zM663 290h1v1h-1zM664 291h1v1h-1zM665 292h1v1h-1zM666 293h1v1h-1zM667 294h1v1h-1zM668 295h1v1h-1zM669 296h1v1h-1zM670 297h1v1h-1zM684 304h1v1h-1zM719 307h1v1h-1zM720 306h1v1h-1zM721 305h1v1h-1zM722 304h1v1h-1zM723 303h1v1h-1zM724 302h1v1h-1zM725 301h1v1h-1zM726 300h1v1h-1zM727 299h1v1h-1zM744 290h1v1h-1zM745 289h1v1h-1zM746 288h1v1h-1zM747 287h1v1h-1zM748 286h1v1h-1zM749 285h1v1h-1zM750 284h1v1h-1zM751 283h1v1h-1zM752 282h1v1h-1zM753 281h1v1h-1zM754 280h1v1h-1zM755 279h1v1h-1zM756 278h1v1h-1zM757 277h1v1h-1zM760 275h1v1h-1zM761 274h1v1h-1zM762 273h1v1h-1zM763 272h1v1h-1zM764 271h1v1h-1zM765 269h1v2h-1zM766 268h1v1h-1zM767 267h1v1h-1zM768 266h1v1h-1zM769 264h1v2h-1zM770 263h1v1h-1zM771 262h1v1h-1zM772 261h1v1h-1zM773 260h1v1h-1zM774 258h1v2h-1zM775 257h1v1h-1zM776 256h1v1h-1zM777 255h1v1h-1zM778 254h1v1h-1zM779 252h1v2h-1zM780 251h1v1h-1zM781 250h1v1h-1zM782 249h1v1h-1zM783 248h1v1h-1zM784 247h1v1h-1zM785 246h1v1h-1zM786 245h1v1h-1zM787 244h1v1h-1zM788 243h1v1h-1zM789 242h1v1h-1zM790 241h1v1h-1zM791 240h1v1h-1zM792 239h1v1h-1zM799 235h1v1h-1zM800 234h1v1h-1zM803 232h1v1h-1zM804 231h1v1h-1zM805 229h1v2h-1zM806 228h1v1h-1zM807 227h1v1h-1zM808 225h1v2h-1zM809 224h1v1h-1zM810 223h1v1h-1zM811 222h1v1h-1zM814 220h1v1h-1zM815 219h1v1h-1zM816 218h1v1h-1zM817 217h1v1h-1zM818 216h1v1h-1zM819 215h1v1h-1z"/>
<path fill="#000088" d="M305 133h6v1h-6zM300 134h5v1h-5zM311 134h3v1h-3zM298 135h2v1h-2zM314 135h3v1h-3zM296 136h2v1h-2zM317 136h4v1h-4zM294 137h2v1h-2zM321 137h5v1h-5zM326 138h5v1h-5zM291 139h2v1h-2zM331 139h6v1h-6zM289 140h2v1h-2zM337 140h5v1h-5zM342 141h2v1h-2zM286 142h2v1h-2zM344 142h3v1h-3zM284 143h2v1h-2zM347 143h2v1h-2zM282 144h2v1h-2zM349 144h3v1h-3zM352 145h2v1h-2zM279 146h2v1h-2zM354 146h3v1h-3zM277 147h2v1h-2zM357 147h2v1h-2zM359 148h4v1h-4zM274 149h2v1h-2zM363 149h4v1h-4zM367 150h4v1h-4zM371 151h5v1h-5zM270 152h2v1h-2zM376 152h5v1h-5zM381 153h3v1h-3zM267 154h2v1h-2zM384 154h2v1h-2zM386 155h2v1h-2zM388 156h2v1h-2zM263 157h2v1h-2zM390 157h2v1h-2zM392 158h3v1h-3zM260 159h2v1h-2zM395 159h3v1h-3zM402 159h7v1h-7zM398 160h4v1h-4zM409 160h5v1h-5zM257 161h2v1h-2zM414 161h2v1h-2zM416 162h2v1h-2zM254 163h2v1h-2zM418 163h3v1h-3zM421 164h2v1h-2zM423 165h2v1h-2zM250 166h2v1h-2zM425 166h2v1h-2zM427 167h2v1h-2zM429 168h2v1h-2zM244 171h2v1h-2zM433 171h2v1h-2zM438 175h2v1h-2zM238 176h2v1h-2zM236 177h2v1h-2zM234 178h2v1h-2zM232 179h2v1h-2zM443 179h2v1h-2zM230 180h2v1h-2zM228 181h2v1h-2zM225 183h2v1h-2zM222 185h2v1h-2zM450 185h2v1h-2zM218 188h2v1h-2zM214 191h2v1h-2zM458 192h2v1h-2zM209 195h2v1h-2zM206 197h2v1h-2zM464 197h2v1h-2zM204 198h2v1h-2zM466 198h2v1h-2zM202 199h2v1h-2zM468 199h2v1h-2zM200 200h2v1h-2zM470 200h2v1h-2zM198 201h2v1h-2zM472 201h2v1h-2zM196 202h2v1h-2zM474 202h2v1h-2zM194 203h2v1h-2zM476 203h2v1h-2zM497 203h18v1h-18zM192 204h2v1h-2zM478 204h6v1h-6zM492 204h5v1h-5zM515 204h4v1h-4zM484 205h8v1h-8zM519 205h4v1h-4zM523 206h4v1h-4zM527 207h5v1h-5zM187 208h2v1h-2zM532 208h3v1h-3zM535 209h2v1h-2zM537 210h2v1h-2zM539 211h2v1h-2zM541 212h2v1h-2zM181 213h2v1h-2zM543 213h3v1h-3zM179 214h2v1h-2zM546 214h3v1h-3zM177 215h2v1h-2zM549 215h3v1h-3zM175 216h2v1h-2zM552 216h3v1h-3zM173 217h2v1h-2zM555 217h2v1h-2zM171 218h2v1h-2zM557 218h2v1h-2zM168 219h3v1h-3zM559 219h2v1h-2zM166 220h2v1h-2zM163 221h3v1h-3zM562 221h2v1h-2zM161 222h2v1h-2zM564 222h2v1h-2zM159 223h2v1h-2zM566 223h2v1h-2zM855 223h2v1h-2zM157 224h2v1h-2zM568 224h2v1h-2zM570 225h2v1h-2zM154 226h2v1h-2zM572 226h2v1h-2zM574 227h2v1h-2zM576 228h2v1h-2zM578 229h2v1h-2zM149 230h2v1h-2zM580 230h2v1h-2zM583 232h2v1h-2zM588 236h2v1h-2zM840 237h2v1h-2zM592 239h2v1h-2zM594 240h2v1h-2zM596 241h2v1h-2zM598 242h2v1h-2zM600 243h3v1h-3zM833 243h2v1h-2zM603 244h2v1h-2zM605 245h2v1h-2zM607 246h3v1h-3zM610 247h2v1h-2zM828 247h2v1h-2zM612 248h2v1h-2zM826 248h2v1h-2zM614 249h4v1h-4zM618 250h16v1h-16zM823 250h2v1h-2zM634 251h5v1h-5zM639 252h3v1h-3zM820 252h2v1h-2zM642 253h2v1h-2zM818 253h2v1h-2zM644 254h2v1h-2zM646 255h2v1h-2zM815 255h2v1h-2zM648 256h2v1h-2zM650 257h2v1h-2zM812 257h2v1h-2zM652 258h2v1h-2zM810 258h2v1h-2zM808 259h2v1h-2zM806 260h2v1h-2zM656 261h2v1h-2zM804 261h2v1h-2zM802 262h2v1h-2zM659 263h2v1h-2zM800 263h2v1h-2zM796 264h4v1h-4zM788 265h8v1h-8zM784 266h4v1h-4zM782 267h2v1h-2zM779 269h2v1h-2zM776 271h2v1h-2zM774 272h2v1h-2zM772 273h2v1h-2zM770 274h2v1h-2zM768 275h2v1h-2zM765 277h2v1h-2zM763 278h2v1h-2zM761 279h2v1h-2zM759 280h2v1h-2zM757 281h2v1h-2zM679 282h2v1h-2zM755 282h2v1h-2zM681 283h2v1h-2zM683 284h2v1h-2zM752 284h2v1h-2zM685 285h2v1h-2zM750 285h2v1h-2zM687 286h2v1h-2zM689 287h2v1h-2zM747 287h2v1h-2zM691 288h2v1h-2zM745 288h2v1h-2zM693 289h2v1h-2zM743 289h2v1h-2zM695 290h2v1h-2zM739 290h4v1h-4zM697 291h2v1h-2zM736 291h3v1h-3zM699 292h2v1h-2zM733 292h3v1h-3zM701 293h3v1h-3zM731 293h2v1h-2zM704 294h2v1h-2zM729 294h2v1h-2zM706 295h2v1h-2zM727 295h2v1h-2zM708 296h4v1h-4zM724 296h3v1h-3zM712 297h4v1h-4zM720 297h4v1h-4zM716 298h4v1h-4zM6 421h1v1h-1zM7 420h1v1h-1zM8 419h1v1h-1zM9 418h1v1h-1zM10 417h1v1h-1zM11 416h1v1h-1zM12 415h1v1h-1zM13 414h1v1h-1zM14 413h1v1h-1zM15 412h1v1h-1zM16 411h1v1h-1zM17 410h1v1h-1zM18 409h1v1h-1zM19 408h1v1h-1zM20 407h1v1h-1zM21 406h1v1h-1zM22 405h1v1h-1zM23 403h1v2h-1zM24 402h1v1h-1zM25 401h1v1h-1zM26 400h1v1h-1zM27 399h1v1h-1zM28 398h1v1h-1zM29 396h1v2h-1zM30 395h1v1h-1zM31 393h1v2h-1zM32 392h1v1h-1zM33 390h1v2h-1zM34 389h1v1h-1zM35 388h1v1h-1zM36 386h1v2h-1zM37 385h1v1h-1zM38 383h1v2h-1zM39 382h1v1h-1zM40 380h1v2h-1zM41 379h1v1h-1zM42 377h1v2h-1zM43 376h1v1h-1zM44 374h1v2h-1zM45 373h1v1h-1zM46 371h1v2h-1zM47 370h1v1h-1zM48 368h1v2h-1zM49 367h1v1h-1zM50 365h1v2h-1zM51 364h1v1h-1zM52 362h1v2h-1zM53 361h1v1h-1zM54 360h1v1h-1zM55 358h1v2h-1zM56 357h1v1h-1zM57 355h1v2h-1zM58 354h1v1h-1zM59 352h1v2h-1zM60 351h1v1h-1zM61 350h1v1h-1zM62 348h1v2h-1zM63 347h1v1h-1zM64 346h1v1h-1zM65 344h1v2h-1zM66 343h1v1h-1zM67 342h1v1h-1zM68 340h1v2h-1zM69 339h1v1h-1zM70 338h1v1h-1zM71 336h1v2h-1zM72 335h1v1h-1zM73 334h1v1h-1zM74 332h1v2h-1zM75 331h1v1h-1zM76 330h1v1h-1zM77 328h1v2h-1zM78 327h1v1h-1zM79 325h1v2h-1zM80 324h1v1h-1zM81 323h1v1h-1zM82 321h1v2h-1zM83 320h1v1h-1zM84 318h1v2h-1zM85 317h1v1h-1zM86 316h1v1h-1zM87 314h1v2h-1zM88 313h1v1h-1zM89 311h1v2h-1zM90 309h1v2h-1zM91 307h1v2h-1zM92 305h1v2h-1zM93 303h1v2h-1zM94 301h1v2h-1zM95 300h1v1h-1zM96 298h1v2h-1zM97 296h1v2h-1zM98 294h1v2h-1zM99 293h1v1h-1zM100 291h1v2h-1zM101 289h1v2h-1zM102 287h1v2h-1zM103 286h1v1h-1zM104 284h1v2h-1zM105 282h1v2h-1zM106 280h1v2h-1zM107 278h1v2h-1zM108 276h1v2h-1zM109 274h1v2h-1zM110 273h1v1h-1zM111 271h1v2h-1zM112 270h1v1h-1zM113 268h1v2h-1zM114 267h1v1h-1zM115 265h1v2h-1zM116 264h1v1h-1zM117 262h1v2h-1zM118 261h1v1h-1zM119 260h1v1h-1zM120 259h1v1h-1zM121 258h1v1h-1zM122 257h1v1h-1zM123 256h1v1h-1zM124 255h1v1h-1zM125 254h1v1h-1zM126 253h1v1h-1zM127 252h1v1h-1zM128 251h1v1h-1zM129 250h1v1h-1zM130 249h1v1h-1zM131 248h1v1h-1zM132 247h1v1h-1zM133 246h1v1h-1zM134 245h1v1h-1zM135 244h1v1h-1zM136 243h1v1h-1zM137 242h1v1h-1zM138 241h1v1h-1zM139 240h1v1h-1zM140 239h1v1h-1zM141 238h1v1h-1zM142 237h1v1h-1zM143 236h1v1h-1zM144 235h1v1h-1zM145 234h1v1h-1zM146 233h1v1h-1zM147 232h1v1h-1zM148 231h1v1h-1zM151 229h1v1h-1zM152 228h1v1h-1zM153 227h1v1h-1zM156 225h1v1h-1zM183 212h1v1h-1zM184 211h1v1h-1zM185 210h1v1h-1zM186 209h1v1h-1zM189 207h1v1h-1zM190 206h1v1h-1zM191 205h1v1h-1zM208 196h1v1h-1zM211 194h1v1h-1zM212 193h1v1h-1zM213 192h1v1h-1zM216 190h1v1h-1zM217 189h1v1h-1zM220 187h1v1h-1zM221 186h1v1h-1zM224 184h1v1h-1zM227 182h1v1h-1zM240 175h1v1h-1zM241 174h1v1h-1zM242 173h1v1h-1zM243 172h1v1h-1zM246 170h1v1h-1zM247 169h1v1h-1zM248 168h1v1h-1zM249 167h1v1h-1zM252 165h1v1h-1zM253 164h1v1h-1zM256 162h1v1h-1zM259 160h1v1h-1zM262 158h1v1h-1zM265 156h1v1h-1zM266 155h1v1h-1zM269 153h1v1h-1zM272 151h1v1h-1zM273 150h1v1h-1zM276 148h1v1h-1zM281 145h1v1h-1zM288 141h1v1h-1zM293 138h1v1h-1zM431 169h1v1h-1zM432 170h1v1h-1zM435 172h1v1h-1zM436 173h1v1h-1zM437 174h1v1h-1zM440 176h1v1h-1zM441 177h1v1h-1zM442 178h1v1h-1zM445 180h1v1h-1zM446 181h1v1h-1zM447 182h1v1h-1zM448 183h1v1h-1zM449 184h1v1h-1zM452 186h1v1h-1zM453 187h1v1h-1zM454 188h1v1h-1zM455 189h1v1h-1zM456 190h1v1h-1zM457 191h1v1h-1zM460 193h1v1h-1zM461 194h1v1h-1zM462 195h1v1h-1zM463 196h1v1h-1zM561 220h1v1h-1zM582 231h1v1h-1zM585 233h1v1h-1zM586 234h1v1h-1zM587 235h1v1h-1zM590 237h1v1h-1zM591 238h1v1h-1zM654 259h1v1h-1zM655 260h1v1h-1zM658 262h1v1h-1zM661 264h1v1h-1zM662 265h1v1h-1zM663 266h1v1h-1zM664 267h1v1h-1zM665 268h1v1h-1zM666 269h1v1h-1zM667 270h1v1h-1zM668 271h1v1h-1zM669 272h1v1h-1zM670 273h1v1h-1zM671 274h1v1h-1zM672 275h1v1h-1zM673 276h1v1h-1zM674 277h1v1h-1zM675 278h1v1h-1zM676 279h1v1h-1zM677 280h1v1h-1zM678 281h1v1h-1zM749 286h1v1h-1zM754 283h1v1h-1zM767 276h1v1h-1zM778 270h1v1h-1zM781 268h1v1h-1zM814 256h1v1h-1zM817 254h1v1h-1zM822 251h1v1h-1zM825 249h1v1h-1zM830 246h1v1h-1zM831 245h1v1h-1zM832 244h1v1h-1zM835 242h1v1h-1zM836 241h1v1h-1zM837 240h1v1h-1zM838 239h1v1h-1zM839 238h1v1h-1zM842 236h1v1h-1zM843 235h1v1h-1zM844 234h1v1h-1zM845 233h1v1h-1zM846 232h1v1h-1zM847 231h1v1h-1zM848 230h1v1h-1zM849 229h1v1h-1zM850 228h1v1h-1zM851 227h1v1h-1zM852 226h1v1h-1zM853 225h1v1h-1zM854 224h1v1h-1zM857 222h1v1h-1zM858 221h1v1h-1zM859 220h1v1h-1zM860 219h1v1h-1zM861 218h1v1h-1zM862 217h1v1h-1zM863 216h1v1h-1zM864 215h1v1h-1zM865 214h1v1h-1zM866 213h1v1h-1zM867 212h1v1h-1zM868 210h1v2h-1zM869 209h1v1h-1zM870 208h1v1h-1z"/>
<path fill="#1e90ff" d="M6 454h9v1h-9zM185 454h8v1h-8zM15 455h5v1h-5zM28 455h9v1h-9zM149 455h5v1h-5zM181 455h4v1h-4zM193 455h2v1h-2zM20 456h8v1h-8zM37 456h5v1h-5zM109 456h17v1h-17zM145 456h4v1h-4zM154 456h2v1h-2zM178 456h3v1h-3zM195 456h2v1h-2zM219 456h6v1h-6zM42 457h3v1h-3zM105 457h4v1h-4zM126 457h3v1h-3zM142 457h3v1h-3zM176 457h2v1h-2zM197 457h2v1h-2zM212 457h7v1h-7zM225 457h4v1h-4zM270 457h12v1h-12zM45 458h24v1h-24zM101 458h4v1h-4zM129 458h2v1h-2zM140 458h2v1h-2zM157 458h2v1h-2zM173 458h3v1h-3zM199 458h13v1h-13zM229 458h2v1h-2zM268 458h2v1h-2zM282 458h4v1h-4zM69 459h2v1h-2zM97 459h4v1h-4zM131 459h2v1h-2zM138 459h2v1h-2zM159 459h2v1h-2zM170 459h3v1h-3zM266 459h2v1h-2zM286 459h4v1h-4zM869 459h2v1h-2zM71 460h2v1h-2zM94 460h3v1h-3zM133 460h2v1h-2zM136 460h2v1h-2zM161 460h4v1h-4zM168 460h2v1h-2zM232 460h2v1h-2zM253 460h13v1h-13zM290 460h2v1h-2zM750 460h6v1h-6zM865 460h4v1h-4zM73 461h2v1h-2zM91 461h3v1h-3zM165 461h3v1h-3zM250 461h3v1h-3zM292 461h3v1h-3zM747 461h3v1h-3zM756 461h6v1h-6zM853 461h12v1h-12zM89 462h2v1h-2zM248 462h2v1h-2zM295 462h2v1h-2zM730 462h9v1h-9zM745 462h2v1h-2zM762 462h4v1h-4zM814 462h2v1h-2zM850 462h3v1h-3zM76 463h2v1h-2zM86 463h3v1h-3zM245 463h3v1h-3zM724 463h6v1h-6zM739 463h6v1h-6zM766 463h5v1h-5zM811 463h3v1h-3zM848 463h2v1h-2zM78 464h2v1h-2zM82 464h4v1h-4zM237 464h2v1h-2zM243 464h2v1h-2zM298 464h2v1h-2zM722 464h2v1h-2zM771 464h6v1h-6zM809 464h2v1h-2zM844 464h4v1h-4zM80 465h2v1h-2zM241 465h2v1h-2zM719 465h3v1h-3zM777 465h2v1h-2zM806 465h3v1h-3zM839 465h5v1h-5zM717 466h2v1h-2zM779 466h2v1h-2zM804 466h2v1h-2zM834 466h5v1h-5zM302 467h2v1h-2zM500 467h3v1h-3zM715 467h2v1h-2zM781 467h13v1h-13zM802 467h2v1h-2zM830 467h4v1h-4zM304 468h2v1h-2zM382 468h2v1h-2zM496 468h4v1h-4zM503 468h2v1h-2zM713 468h2v1h-2zM794 468h3v1h-3zM800 468h2v1h-2zM827 468h3v1h-3zM306 469h2v1h-2zM378 469h4v1h-4zM401 469h9v1h-9zM494 469h2v1h-2zM505 469h2v1h-2zM797 469h3v1h-3zM825 469h2v1h-2zM308 470h2v1h-2zM365 470h13v1h-13zM385 470h2v1h-2zM398 470h3v1h-3zM410 470h4v1h-4zM492 470h2v1h-2zM507 470h2v1h-2zM710 470h2v1h-2zM823 470h2v1h-2zM310 471h2v1h-2zM362 471h3v1h-3zM396 471h2v1h-2zM414 471h5v1h-5zM427 471h5v1h-5zM509 471h2v1h-2zM629 471h3v1h-3zM350 472h12v1h-12zM394 472h2v1h-2zM419 472h8v1h-8zM511 472h2v1h-2zM625 472h4v1h-4zM632 472h2v1h-2zM348 473h2v1h-2zM389 473h2v1h-2zM392 473h2v1h-2zM488 473h2v1h-2zM513 473h4v1h-4zM532 473h4v1h-4zM547 473h2v1h-2zM623 473h2v1h-2zM634 473h2v1h-2zM692 473h4v1h-4zM706 473h2v1h-2zM346 474h2v1h-2zM485 474h3v1h-3zM517 474h15v1h-15zM536 474h2v1h-2zM555 474h2v1h-2zM636 474h2v1h-2zM643 474h5v1h-5zM688 474h4v1h-4zM696 474h2v1h-2zM315 475h2v1h-2zM344 475h2v1h-2zM481 475h4v1h-4zM538 475h2v1h-2zM575 475h9v1h-9zM638 475h5v1h-5zM648 475h2v1h-2zM684 475h4v1h-4zM698 475h3v1h-3zM703 475h2v1h-2zM332 476h12v1h-12zM470 476h11v1h-11zM540 476h2v1h-2zM573 476h2v1h-2zM584 476h2v1h-2zM681 476h3v1h-3zM701 476h2v1h-2zM330 477h2v1h-2zM468 477h2v1h-2zM542 477h2v1h-2zM559 477h2v1h-2zM571 477h2v1h-2zM651 477h2v1h-2zM679 477h2v1h-2zM319 478h11v1h-11zM561 478h2v1h-2zM569 478h2v1h-2zM587 478h2v1h-2zM597 478h12v1h-12zM653 478h2v1h-2zM677 478h2v1h-2zM439 479h10v1h-10zM563 479h2v1h-2zM567 479h2v1h-2zM589 479h2v1h-2zM593 479h4v1h-4zM609 479h2v1h-2zM655 479h10v1h-10zM675 479h2v1h-2zM449 480h2v1h-2zM464 480h2v1h-2zM565 480h2v1h-2zM591 480h2v1h-2zM611 480h2v1h-2zM665 480h2v1h-2zM673 480h2v1h-2zM451 481h2v1h-2zM613 481h2v1h-2zM667 481h2v1h-2zM671 481h2v1h-2zM453 482h10v1h-10zM669 482h2v1h-2zM75 462h1v1h-1zM135 461h1v1h-1zM156 457h1v1h-1zM231 459h1v1h-1zM234 461h1v1h-1zM235 462h1v1h-1zM236 463h1v1h-1zM239 465h1v1h-1zM240 466h1v1h-1zM297 463h1v1h-1zM300 465h1v1h-1zM301 466h1v1h-1zM312 472h1v1h-1zM313 473h1v1h-1zM314 474h1v1h-1zM317 476h1v1h-1zM318 477h1v1h-1zM384 469h1v1h-1zM387 471h1v1h-1zM388 472h1v1h-1zM391 474h1v1h-1zM432 472h1v1h-1zM433 473h1v1h-1zM434 474h1v1h-1zM435 475h1v1h-1zM436 476h1v1h-1zM437 477h1v1h-1zM438 478h1v1h-1zM463 481h1v1h-1zM466 479h1v1h-1zM467 478h1v1h-1zM490 472h1v1h-1zM491 471h1v1h-1zM544 476h1v1h-1zM545 475h1v1h-1zM546 474h1v1h-1zM549 472h1v1h-1zM550 471h1v1h-1zM551 470h1v1h-1zM552 471h1v1h-1zM553 472h1v1h-1zM554 473h1v1h-1zM557 475h1v1h-1zM558 476h1v1h-1zM586 477h1v1h-1zM615 482h1v1h-1zM616 481h1v1h-1zM617 480h1v1h-1zM618 479h1v1h-1zM619 477h1v2h-1zM620 476h1v1h-1zM621 475h1v1h-1zM622 474h1v1h-1zM650 476h1v1h-1zM705 474h1v1h-1zM708 472h1v1h-1zM709 471h1v1h-1zM712 469h1v1h-1zM816 463h1v1h-1zM817 464h1v1h-1zM818 465h1v1h-1zM819 466h1v1h-1zM820 467h1v1h-1zM821 468h1v1h-1zM822 469h1v1h-1z"/>
<path fill="#ff0000" d="M74 519h21v1h-21zM210 519h34v1h-34zM68 520h6v1h-6zM95 520h32v1h-32zM187 520h23v1h-23zM244 520h8v1h-8zM66 521h2v1h-2zM127 521h60v1h-60zM252 521h8v1h-8zM64 522h2v1h-2zM260 522h16v1h-16zM61 523h3v1h-3zM276 523h8v1h-8zM59 524h2v1h-2zM284 524h8v1h-8zM56 525h3v1h-3zM292 525h8v1h-8zM54 526h2v1h-2zM300 526h8v1h-8zM52 527h2v1h-2zM308 527h6v1h-6zM50 528h2v1h-2zM314 528h3v1h-3zM317 529h4v1h-4zM47 530h2v1h-2zM321 530h4v1h-4zM45 531h2v1h-2zM325 531h2v1h-2zM327 532h2v1h-2zM42 533h2v1h-2zM329 533h3v1h-3zM332 534h2v1h-2zM334 535h3v1h-3zM337 536h2v1h-2zM37 537h2v1h-2zM339 537h2v1h-2zM341 538h2v1h-2zM343 539h2v1h-2zM345 540h2v1h-2zM347 541h2v1h-2zM31 542h2v1h-2zM349 542h2v1h-2zM351 543h2v1h-2zM867 543h5v1h-5zM353 544h2v1h-2zM808 544h59v1h-59zM355 545h2v1h-2zM803 545h5v1h-5zM357 546h2v1h-2zM800 546h3v1h-3zM25 547h2v1h-2zM359 547h3v1h-3zM796 547h4v1h-4zM362 548h3v1h-3zM793 548h3v1h-3zM365 549h4v1h-4zM790 549h3v1h-3zM369 550h3v1h-3zM787 550h3v1h-3zM20 551h2v1h-2zM372 551h2v1h-2zM785 551h2v1h-2zM374 552h2v1h-2zM782 552h3v1h-3zM376 553h3v1h-3zM780 553h2v1h-2zM379 554h2v1h-2zM777 554h3v1h-3zM381 555h3v1h-3zM775 555h2v1h-2zM384 556h4v1h-4zM772 556h3v1h-3zM388 557h5v1h-5zM770 557h2v1h-2zM393 558h27v1h-27zM768 558h2v1h-2zM420 559h24v1h-24zM766 559h2v1h-2zM444 560h8v1h-8zM764 560h2v1h-2zM452 561h6v1h-6zM762 561h2v1h-2zM458 562h3v1h-3zM760 562h2v1h-2zM461 563h5v1h-5zM758 563h2v1h-2zM466 564h8v1h-8zM756 564h2v1h-2zM474 565h2v1h-2zM754 565h2v1h-2zM476 566h8v1h-8zM752 566h2v1h-2zM484 567h8v1h-8zM547 567h33v1h-33zM750 567h2v1h-2zM492 568h8v1h-8zM531 568h16v1h-16zM580 568h8v1h-8zM748 568h2v1h-2zM500 569h31v1h-31zM588 569h8v1h-8zM746 569h2v1h-2zM596 570h6v1h-6zM744 570h2v1h-2zM602 571h2v1h-2zM742 571h2v1h-2zM604 572h8v1h-8zM612 573h8v1h-8zM739 573h2v1h-2zM620 574h8v1h-8zM737 574h2v1h-2zM628 575h8v1h-8zM734 575h3v1h-3zM636 576h16v1h-16zM728 576h6v1h-6zM652 577h16v1h-16zM724 577h4v1h-4zM668 578h8v1h-8zM722 578h2v1h-2zM676 579h46v1h-46zM6 565h1v1h-1zM7 564h1v1h-1zM8 563h1v1h-1zM9 562h1v1h-1zM10 561h1v1h-1zM11 560h1v1h-1zM12 559h1v1h-1zM13 558h1v1h-1zM14 557h1v1h-1zM15 556h1v1h-1zM16 555h1v1h-1zM17 554h1v1h-1zM18 553h1v1h-1zM19 552h1v1h-1zM22 550h1v1h-1zM23 549h1v1h-1zM24 548h1v1h-1zM27 546h1v1h-1zM28 545h1v1h-1zM29 544h1v1h-1zM30 543h1v1h-1zM33 541h1v1h-1zM34 540h1v1h-1zM35 539h1v1h-1zM36 538h1v1h-1zM39 536h1v1h-1zM40 535h1v1h-1zM41 534h1v1h-1zM44 532h1v1h-1zM49 529h1v1h-1zM741 572h1v1h-1z"/>
<rect x="269" y="119" width="712" height="2" fill="#f03030"/>
<rect x="733" y="175" width="210" height="2" fill="#8fc400"/>
<rect x="743" y="215" width="203" height="2" fill="#2a82da"/>
</g>
<path d="M1128 616v7l-4-3.5z" fill="#a0a0a0"/><path d="M1144 616v7l4-3.5z" fill="#a0a0a0"/>
<text x="16.4" y="18.0" font-size="10" fill="#404040" stroke="#404040" stroke-width="0" textLength="12.6" lengthAdjust="spacingAndGlyphs">H4</text>
<text x="45.6" y="18.0" font-size="10" fill="#404040" stroke="#404040" stroke-width="0" textLength="11.7" lengthAdjust="spacingAndGlyphs">D1</text>
<text x="73.2" y="18.0" font-size="10" fill="#404040" stroke="#404040" stroke-width="0" textLength="14.0" lengthAdjust="spacingAndGlyphs">W1</text>
<text x="99.8" y="18.0" font-size="10" fill="#404040" stroke="#404040" stroke-width="0" textLength="14.4" lengthAdjust="spacingAndGlyphs">MN</text>
<text x="22.0" y="42.0" font-size="10" fill="#000" stroke="#000" stroke-width="0.1" textLength="64.7" lengthAdjust="spacingAndGlyphs">USDCHF,Daily</text>
<text x="93.2" y="42.0" font-size="10" fill="#000" stroke="#000" stroke-width="0.1" textLength="32.3" lengthAdjust="spacingAndGlyphs">1.00076</text>
<text x="129.2" y="42.0" font-size="10" fill="#000" stroke="#000" stroke-width="0.1" textLength="32.5" lengthAdjust="spacingAndGlyphs">1.00264</text>
<text x="165.0" y="42.0" font-size="10" fill="#000" stroke="#000" stroke-width="0.1" textLength="32.8" lengthAdjust="spacingAndGlyphs">1.00057</text>
<text x="201.3" y="42.0" font-size="10" fill="#000" stroke="#000" stroke-width="0.1" textLength="32.6" lengthAdjust="spacingAndGlyphs">1.00253</text>
<text x="1115.7" y="66.0" font-size="10" fill="#000" stroke="#000" stroke-width="0.1" textLength="32.2" lengthAdjust="spacingAndGlyphs">1.01150</text>
<text x="1115.7" y="99.0" font-size="10" fill="#000" stroke="#000" stroke-width="0.1" textLength="32.2" lengthAdjust="spacingAndGlyphs">1.00780</text>
<text x="1115.7" y="132.0" font-size="10" fill="#000" stroke="#000" stroke-width="0.1" textLength="32.2" lengthAdjust="spacingAndGlyphs">1.00400</text>
<text x="1115.7" y="165.0" font-size="10" fill="#000" stroke="#000" stroke-width="0.1" textLength="32.2" lengthAdjust="spacingAndGlyphs">1.00030</text>
<text x="1115.7" y="198.0" font-size="10" fill="#000" stroke="#000" stroke-width="0.1" textLength="32.2" lengthAdjust="spacingAndGlyphs">0.99660</text>
<text x="1115.7" y="231.0" font-size="10" fill="#000" stroke="#000" stroke-width="0.1" textLength="32.2" lengthAdjust="spacingAndGlyphs">0.99290</text>
<text x="1115.7" y="264.0" font-size="10" fill="#000" stroke="#000" stroke-width="0.1" textLength="32.2" lengthAdjust="spacingAndGlyphs">0.98920</text>
<text x="1115.7" y="297.0" font-size="10" fill="#000" stroke="#000" stroke-width="0.1" textLength="32.2" lengthAdjust="spacingAndGlyphs">0.98550</text>
<text x="1115.7" y="330.0" font-size="10" fill="#000" stroke="#000" stroke-width="0.1" textLength="32.2" lengthAdjust="spacingAndGlyphs">0.98180</text>
<text x="1115.7" y="363.0" font-size="10" fill="#000" stroke="#000" stroke-width="0.1" textLength="32.2" lengthAdjust="spacingAndGlyphs">0.97810</text>
<text x="1115.7" y="396.0" font-size="10" fill="#000" stroke="#000" stroke-width="0.1" textLength="32.2" lengthAdjust="spacingAndGlyphs">0.97440</text>
<text x="1115.7" y="429.0" font-size="10" fill="#000" stroke="#000" stroke-width="0.1" textLength="32.2" lengthAdjust="spacingAndGlyphs">0.97070</text>
<text x="1115.7" y="146.0" font-size="10" fill="#fff" stroke="#fff" stroke-width="0.1" textLength="32.2" lengthAdjust="spacingAndGlyphs">1.00253</text>
<text x="1113.0" y="441.0" font-size="10" fill="#000" stroke="#000" stroke-width="0.1" textLength="15.0" lengthAdjust="spacingAndGlyphs">100</text>
<text x="1112.0" y="459.0" font-size="10" fill="#000" stroke="#000" stroke-width="0.1" textLength="10.0" lengthAdjust="spacingAndGlyphs">70</text>
<text x="1112.0" y="489.0" font-size="10" fill="#000" stroke="#000" stroke-width="0.1" textLength="10.0" lengthAdjust="spacingAndGlyphs">30</text>
<text x="1113.0" y="506.0" font-size="10" fill="#000" stroke="#000" stroke-width="0.1" textLength="5.0" lengthAdjust="spacingAndGlyphs">0</text>
<text x="1113.0" y="522.0" font-size="10" fill="#000" stroke="#000" stroke-width="0.1" textLength="38.0" lengthAdjust="spacingAndGlyphs">0.005985</text>
<text x="1113.0" y="561.0" font-size="10" fill="#000" stroke="#000" stroke-width="0.1" textLength="17.5" lengthAdjust="spacingAndGlyphs">0.00</text>
<text x="1113.0" y="584.0" font-size="10" fill="#000" stroke="#000" stroke-width="0.1" textLength="41.0" lengthAdjust="spacingAndGlyphs">-0.003954</text>
<text x="11.0" y="443.5" font-size="10" fill="#000" stroke="#000" stroke-width="0.1" textLength="67.6" lengthAdjust="spacingAndGlyphs">RSI(14) 64.1631</text>
<text x="11.5" y="524.0" font-size="10" fill="#000" stroke="#000" stroke-width="0.1" textLength="147.0" lengthAdjust="spacingAndGlyphs">MACD(12,26,9) 0.002759 0.001942</text>
<text x="6.0" y="600.0" font-size="10" fill="#000" stroke="#000" stroke-width="0.1" textLength="46.0" lengthAdjust="spacingAndGlyphs">4 Oct 2018</text>
<text x="70.0" y="600.0" font-size="10" fill="#000" stroke="#000" stroke-width="0.1" textLength="50.3" lengthAdjust="spacingAndGlyphs">13 Oct 2018</text>
<text x="134.0" y="600.0" font-size="10" fill="#000" stroke="#000" stroke-width="0.1" textLength="50.3" lengthAdjust="spacingAndGlyphs">23 Oct 2018</text>
<text x="198.0" y="600.0" font-size="10" fill="#000" stroke="#000" stroke-width="0.1" textLength="48.2" lengthAdjust="spacingAndGlyphs">1 Nov 2018</text>
<text x="262.0" y="600.0" font-size="10" fill="#000" stroke="#000" stroke-width="0.1" textLength="53.0" lengthAdjust="spacingAndGlyphs">10 Nov 2018</text>
<text x="326.0" y="600.0" font-size="10" fill="#000" stroke="#000" stroke-width="0.1" textLength="53.0" lengthAdjust="spacingAndGlyphs">20 Nov 2018</text>
<text x="390.0" y="600.0" font-size="10" fill="#000" stroke="#000" stroke-width="0.1" textLength="53.5" lengthAdjust="spacingAndGlyphs">29 Nov 2018</text>
<text x="454.0" y="600.0" font-size="10" fill="#000" stroke="#000" stroke-width="0.1" textLength="46.2" lengthAdjust="spacingAndGlyphs">8 Dec 2018</text>
<text x="518.0" y="600.0" font-size="10" fill="#000" stroke="#000" stroke-width="0.1" textLength="51.4" lengthAdjust="spacingAndGlyphs">18 Dec 2018</text>
<text x="582.0" y="600.0" font-size="10" fill="#000" stroke="#000" stroke-width="0.1" textLength="51.2" lengthAdjust="spacingAndGlyphs">27 Dec 2018</text>
<text x="646.0" y="600.0" font-size="10" fill="#000" stroke="#000" stroke-width="0.1" textLength="44.0" lengthAdjust="spacingAndGlyphs">5 Jan 2019</text>
<text x="710.0" y="600.0" font-size="10" fill="#000" stroke="#000" stroke-width="0.1" textLength="49.3" lengthAdjust="spacingAndGlyphs">15 Jan 2019</text>
<text x="774.0" y="600.0" font-size="10" fill="#000" stroke="#000" stroke-width="0.1" textLength="50.0" lengthAdjust="spacingAndGlyphs">24 Jan 2019</text>
<text x="838.0" y="600.0" font-size="10" fill="#000" stroke="#000" stroke-width="0.1" textLength="46.8" lengthAdjust="spacingAndGlyphs">2 Feb 2019</text>
<text x="20.6" y="625.0" font-size="12.7" fill="#6a6a6a" stroke="#6a6a6a" stroke-width="0" textLength="79.2" lengthAdjust="spacingAndGlyphs">EURUSD,Daily</text>
<text x="123.0" y="625.0" font-size="12.7" fill="#6a6a6a" stroke="#6a6a6a" stroke-width="0" textLength="81.5" lengthAdjust="spacingAndGlyphs">AUDUSD,Daily</text>
<text x="226.5" y="625.0" font-size="12.7" fill="#000" stroke="#000" stroke-width="0" textLength="78.3" lengthAdjust="spacingAndGlyphs">USDCHF,Daily</text>
<text x="327.6" y="625.0" font-size="12.7" fill="#6a6a6a" stroke="#6a6a6a" stroke-width="0" textLength="80.4" lengthAdjust="spacingAndGlyphs">USDCAD,Daily</text>
<text x="430.3" y="625.0" font-size="12.7" fill="#6a6a6a" stroke="#6a6a6a" stroke-width="0" textLength="82.5" lengthAdjust="spacingAndGlyphs">USDCNH,Daily</text>
<text x="534.2" y="625.0" font-size="12.7" fill="#6a6a6a" stroke="#6a6a6a" stroke-width="0" textLength="78.8" lengthAdjust="spacingAndGlyphs">EURGBP,Daily</text>
<text x="635.5" y="625.0" font-size="12.7" fill="#6a6a6a" stroke="#6a6a6a" stroke-width="0" textLength="68.5" lengthAdjust="spacingAndGlyphs">NZDUSD,H1</text>
<text x="728.4" y="625.0" font-size="12.7" fill="#6a6a6a" stroke="#6a6a6a" stroke-width="0" textLength="79.3" lengthAdjust="spacingAndGlyphs">GBPUSD,Daily</text>
</svg></body></html>
